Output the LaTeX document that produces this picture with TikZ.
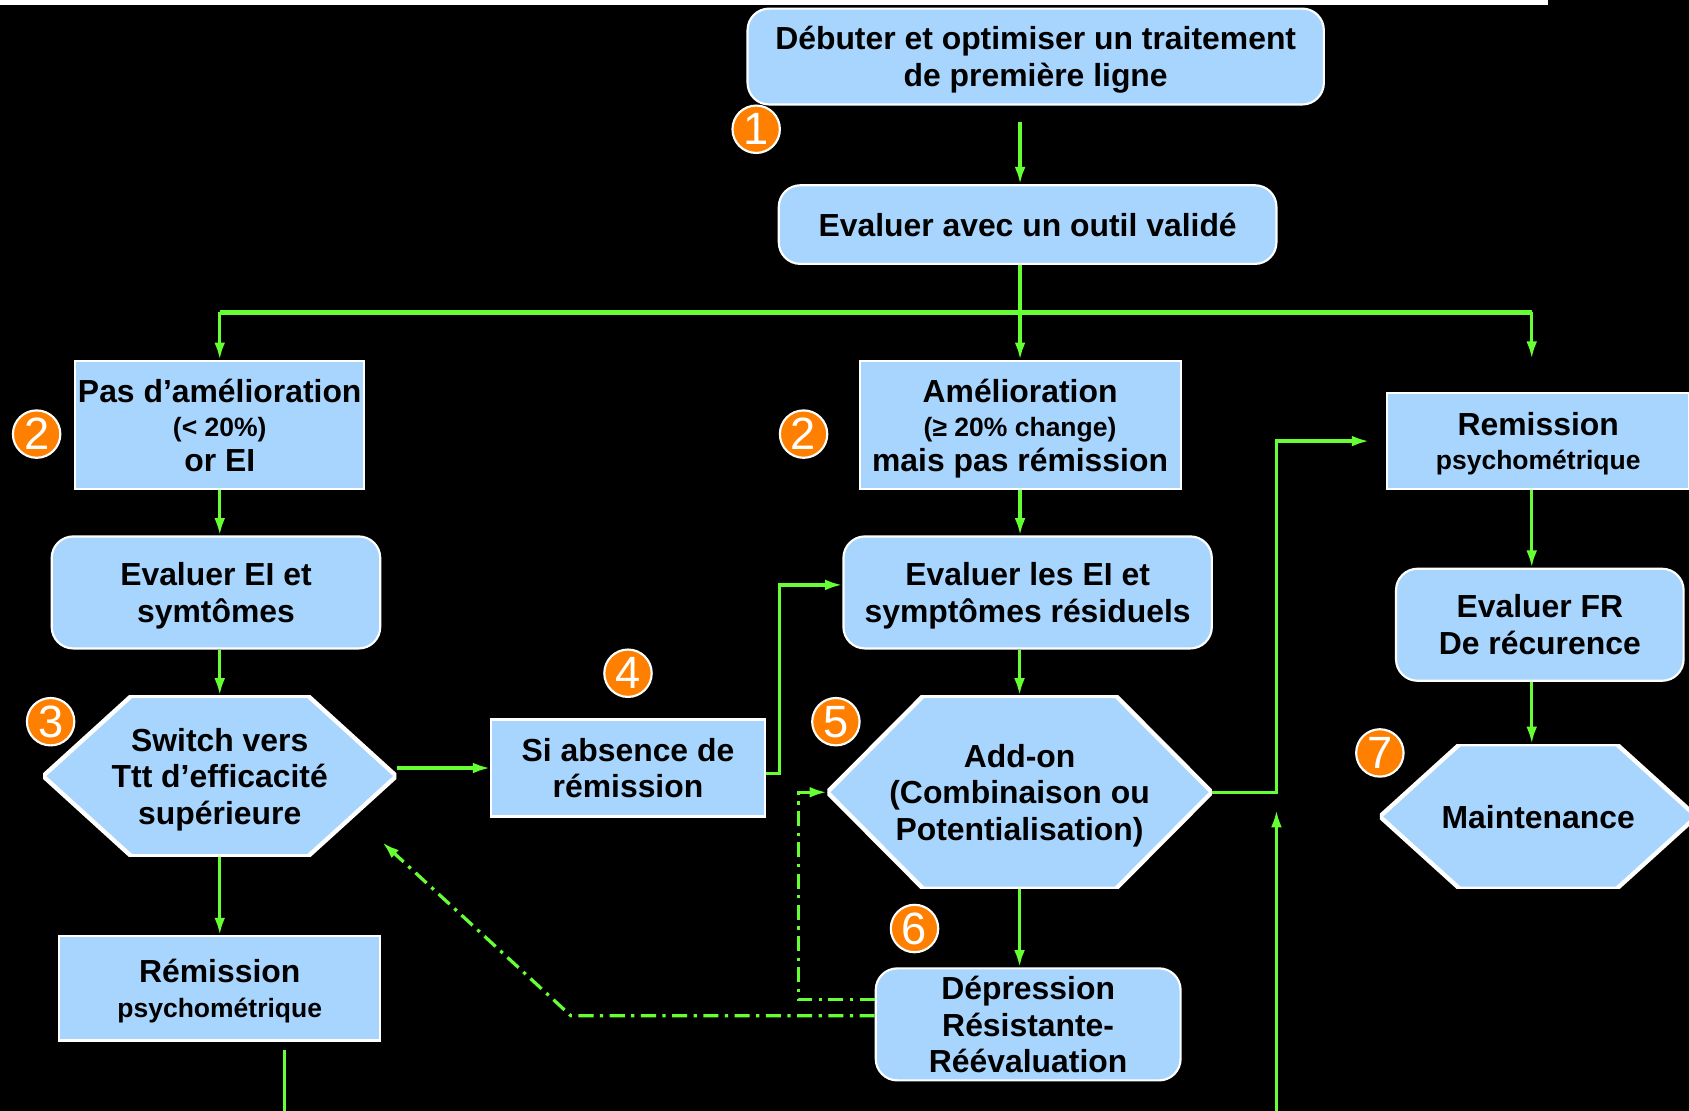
\documentclass[tikz,border=0pt]{standalone}
\usepackage{fontspec}
\setmainfont{Liberation Sans}
\usetikzlibrary{arrows.meta}
\definecolor{boxblue}{HTML}{A8D5FE}
\definecolor{arrowgreen}{HTML}{66FF33}
\definecolor{numorange}{HTML}{FF8000}
\newcommand{\grand}{\fontsize{14.8}{17}\selectfont}
\newcommand{\petit}{\fontsize{12.3}{15}\selectfont}

\begin{document}
\begin{tikzpicture}[x=0.5pt,y=-0.5pt,
  hexcut/.store in=\hexcut, hexcut=40pt,
  box/.style={draw=white,line width=1pt,fill=boxblue,inner sep=0pt,align=center,text depth=0pt,font=\bfseries\grand},
  rbox/.style={box,rounded corners=10pt},
  hexa/.style={rectangle,inner sep=0pt,align=center,text depth=0pt,font=\bfseries\grand,
    path picture={\draw[white,line width=2pt,fill=boxblue]
      (path picture bounding box.west) -- ([xshift=\hexcut]path picture bounding box.north west)
      -- ([xshift=-\hexcut]path picture bounding box.north east) -- (path picture bounding box.east)
      -- ([xshift=-\hexcut]path picture bounding box.south east)
      -- ([xshift=\hexcut]path picture bounding box.south west) -- cycle;}},
  num/.style={circle,draw=white,line width=1pt,fill=numorange,text=white,minimum size=22pt,inner sep=0pt,font=\fontsize{21}{21}\selectfont},
  fleche/.style={draw=arrowgreen,line width=1.5pt,-{Latex[length=8pt,width=5pt]}},
  trait/.style={draw=arrowgreen,line width=1.5pt},
  barre/.style={draw=arrowgreen,line width=2.2pt},
  pointille/.style={fleche,dash pattern=on 7pt off 3pt on 1.5pt off 3pt}]
\useasboundingbox (0,0) rectangle (1568,1031);
\clip (0,0) rectangle (1568,1031);
\fill[black] (0,0) rectangle (1568,1031);
\fill[white] (0,0) rectangle (1437,4.5);

\node[rbox,minimum width=267.5pt,minimum height=44.5pt] (deb) at (961.5,52.5) {Débuter et optimiser un traitement\\de première ligne};
\node[rbox,minimum width=231pt,minimum height=36.5pt] (eval) at (954,208.5) {Evaluer avec un outil validé};

\node[box,minimum width=134pt,minimum height=59.5pt] (pas) at (204,394.5) {Pas d’amélioration\\[-1pt]{\petit (< 20\%)}\\[-1pt]or EI};
\node[box,minimum width=149pt,minimum height=59.5pt] (ameli) at (947,394.5) {Amélioration\\[-1pt]{\petit (≥ 20\% change)}\\[-1pt]mais pas rémission};
\node[box,minimum width=140pt,minimum height=44.5pt] (remR) at (1428,409.5) {Remission\\[-1pt]{\petit psychométrique}};

\node[rbox,minimum width=152.5pt,minimum height=52pt] (evEI) at (200.5,550) {Evaluer EI et\\symtômes};
\node[rbox,minimum width=171pt,minimum height=52pt] (evRes) at (954,550) {Evaluer les EI et\\symptômes résiduels};
\node[rbox,minimum width=133.5pt,minimum height=52pt] (evFR) at (1429.5,580) {Evaluer FR\\De récurence};

\node[hexa,hexcut=41pt,minimum width=164pt,minimum height=74.5pt] (switch) at (204,720.5) {Switch vers\\Ttt d’efficacité\\supérieure};
\node[box,minimum width=127pt,minimum height=45pt] (si) at (583,713) {Si absence de\\rémission};
\node[hexa,hexcut=44.5pt,minimum width=178.5pt,minimum height=89.5pt] (addon) at (946.5,735.5) {Add-on\\(Combinaison ou\\Potentialisation)};
\node[hexa,hexcut=37pt,minimum width=147pt,minimum height=67pt] (maint) at (1428,758) {Maintenance};

\node[box,minimum width=149pt,minimum height=48.5pt] (remL) at (204,917.5) {Rémission\\[-1pt]{\petit psychométrique}};
\node[rbox,minimum width=141.5pt,minimum height=52pt] (depr) at (954.5,951) {Dépression\\Résistante-\\Réévaluation};

\node[num] (n1) at (702,120) {1};
\node[num] (n2a) at (34,403) {2};
\node[num] (n2b) at (746,403) {2};
\node[num] (n3) at (47,670) {3};
\node[num] (n4) at (583,625) {4};
\node[num] (n5) at (776,670) {5};
\node[num] (n6) at (849,862) {6};
\node[num] (n7) at (1281,699) {7};

\coordinate (busL) at (204,290);
\coordinate (busR) at (1422,290);
\coordinate (remTop) at (1422,333);
\coordinate (swTip) at (355,782);
\coordinate (upBas) at (1185,1040);
\coordinate (upHaut) at (1185,752);
\coordinate (basA) at (264,975);
\coordinate (basB) at (264,1040);

\draw[fleche,shorten <=7.5pt] (ameli |- deb.south) -- (ameli |- eval.north);
\draw[trait] (ameli |- eval.south) -- (ameli |- busL);
\draw[barre] (busL) -- (busR);
\draw[fleche] (busL) -- (pas.north);
\draw[fleche] (ameli |- busL) -- (ameli.north);
\draw[fleche] (busR) -- (remTop);

\draw[fleche] (pas.south) -- (pas.south |- evEI.north);
\draw[fleche] (pas.south |- evEI.south) -- (switch.north);
\draw[fleche] (switch.south) -- (remL.north);
\draw[fleche] (switch.east |- si.west) -- (si.west);
\draw[fleche] ([yshift=-2.5pt]si.east) -- ++(13,0) |- ([yshift=3.5pt]evRes.west);

\draw[fleche] (ameli.south) -- (ameli.south |- evRes.north);
\draw[fleche] (addon |- evRes.south) -- (addon.north);
\draw[fleche] (addon.south) -- (addon.south |- depr.north);
\draw[fleche,shorten >=8pt] (addon.east) -- (upHaut |- addon.east) |- (remR.west);
\draw[fleche] (upBas) -- (upHaut);

\draw[fleche] (busR |- remR.south) -- (busR |- evFR.north);
\draw[fleche] (busR |- evFR.south) -- (busR |- maint.north);

\draw[pointille] ([yshift=11.5pt]depr.west) -- ++(-71,0) |- (addon.west);
\draw[pointille] ([yshift=4pt]depr.west) -- (530,943) -- (swTip);

\draw[trait] (basA) -- (basB);
\end{tikzpicture}
\end{document}
